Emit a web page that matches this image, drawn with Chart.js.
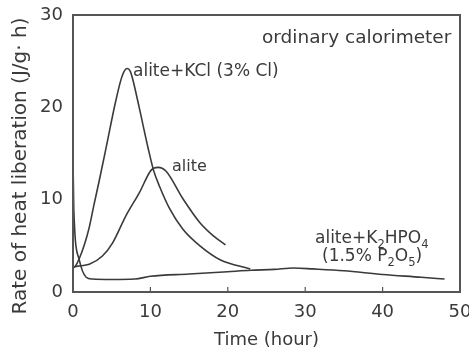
<!DOCTYPE html>
<html>
<head>
<meta charset="utf-8">
<script src="https://cdn.jsdelivr.net/npm/chart.js@4/dist/chart.umd.min.js"></script>
<style>
  html, body { margin: 0; padding: 0; background: #fff; }
  #wrap { width: 469px; height: 351px; }
</style>
</head>
<body>
<div id="wrap"><canvas id="heatChart"></canvas></div>
<script>
// Heat liberation curves (hours, J/g.h)
const kclTime = [0, 0.3, 0.8, 1.5, 2.1, 2.7, 3.4, 4.1, 4.8, 5.5, 6.2, 6.6, 7, 7.4, 7.7, 8.6, 9.7, 10.4, 11.2, 12.5, 14.2, 16.4, 19, 22.9];
const kclRate = [2.6, 2.8, 3.6, 5.2, 7.0, 9.4, 12.1, 14.9, 17.8, 20.6, 23.0, 23.9, 24.2, 23.9, 23.1, 19.8, 15.6, 13.2, 11.4, 9.0, 6.8, 5.0, 3.5, 2.5];

const aliteTime = [0, 0.6, 2.1, 3.8, 5.1, 6.8, 8.6, 10.1, 11, 12, 14.2, 16.4, 18.1, 19.7];
const aliteRate = [2.7, 2.8, 3.0, 3.9, 5.3, 8.2, 10.8, 13.2, 13.5, 13.1, 10.1, 7.5, 6.1, 5.1];

const phosTime = [0, 0.1, 0.8, 1.7, 2.5, 5, 8, 10, 15, 20, 23, 26, 28.5, 31, 35, 40, 45, 48];
const phosRate = [14.5, 9, 3.5, 1.6, 1.4, 1.35, 1.4, 1.7, 1.95, 2.2, 2.35, 2.45, 2.6, 2.5, 2.3, 1.9, 1.6, 1.4];

const xTicks = [0, 10, 20, 30, 40, 50];
const yTicks = [0, 10, 20, 30];

const ink = "#3a3a3a";
const fontFamily = "'DejaVu Sans', sans-serif";

function toPoints(xs, ys) {
  return xs.map((x, i) => ({ x: x, y: ys[i] }));
}

function lineSet(label, xs, ys) {
  return {
    label: label,
    data: toPoints(xs, ys),
    borderColor: ink,
    borderWidth: 1.6,
    pointRadius: 0,
    fill: false,
    cubicInterpolationMode: "monotone"
  };
}

// draws text made of parts, some of them subscripts
function drawParts(ctx, parts, x, y, size) {
  let cx = x;
  parts.forEach(p => {
    const s = p.sub ? size * 0.68 : size;
    ctx.font = s + "px " + fontFamily;
    ctx.fillText(p.t, cx, p.sub ? y + size * 0.32 : y);
    cx += ctx.measureText(p.t).width;
  });
}

const framePlugin = {
  id: "frame",
  afterDraw(chart) {
    const ctx = chart.ctx;
    const a = chart.chartArea;
    const xs = chart.scales.x;
    ctx.save();
    ctx.strokeStyle = "#555";
    ctx.lineWidth = 2;
    ctx.strokeRect(a.left, a.top, a.right - a.left, a.bottom - a.top);
    // inward ticks on the time axis
    ctx.lineWidth = 1.2;
    xTicks.slice(1, -1).forEach(v => {
      const px = xs.getPixelForValue(v);
      ctx.beginPath();
      ctx.moveTo(px, a.bottom);
      ctx.lineTo(px, a.bottom - 5);
      ctx.stroke();
    });

    ctx.fillStyle = ink;
    // y axis title, sits a little below the plot centre as in the original
    ctx.save();
    ctx.translate(21, 166);
    ctx.rotate(-Math.PI / 2);
    ctx.textAlign = "center";
    ctx.textBaseline = "middle";
    ctx.font = "20px " + fontFamily;
    ctx.fillText("Rate of heat liberation (J/g\u00b7 h)", 0, 0);
    ctx.restore();

    ctx.textBaseline = "alphabetic";
    ctx.textAlign = "left";
    ctx.font = "18.5px " + fontFamily;
    ctx.fillText("ordinary calorimeter", 262, 43);
    ctx.font = "17px " + fontFamily;
    ctx.fillText("alite+KCl (3% Cl)", 133, 76);
    ctx.font = "16px " + fontFamily;
    ctx.fillText("alite", 172, 171);
    drawParts(ctx, [{ t: "alite+K" }, { t: "2", sub: true }, { t: "HPO" }, { t: "4", sub: true }], 315, 243, 17);
    drawParts(ctx, [{ t: "(1.5% P" }, { t: "2", sub: true }, { t: "O" }, { t: "5", sub: true }, { t: ")" }], 322, 261, 17);
    ctx.restore();
  }
};

new Chart(document.getElementById("heatChart"), {
  type: "line",
  data: {
    datasets: [
      lineSet("alite+KCl (3% Cl)", kclTime, kclRate),
      lineSet("alite", aliteTime, aliteRate),
      lineSet("alite+K2HPO4 (1.5% P2O5)", phosTime, phosRate)
    ]
  },
  options: {
    responsive: true,
    maintainAspectRatio: false,
    animation: false,
    layout: { padding: { left: 0, right: 9, top: 15, bottom: 0 } },
    plugins: { legend: { display: false }, tooltip: { enabled: false } },
    scales: {
      x: {
        type: "linear",
        min: 0,
        max: 50,
        afterBuildTicks: s => { s.ticks = xTicks.map(v => ({ value: v })); },
        afterFit: s => { s.height = 59; s.paddingLeft = 0; s.paddingRight = 0; },
        grid: { display: false, drawTicks: false },
        border: { display: false },
        ticks: { color: ink, padding: 10, font: { size: 18, family: fontFamily }, maxRotation: 0 },
        title: { display: true, text: "Time (hour)", color: ink, padding: { top: 4, bottom: 0 }, font: { size: 18, family: fontFamily } }
      },
      y: {
        type: "linear",
        min: 0,
        max: 30,
        afterBuildTicks: s => { s.ticks = yTicks.map(v => ({ value: v })); },
        afterFit: s => { s.width = 73; s.paddingTop = 0; s.paddingBottom = 0; },
        grid: { display: false, drawTicks: false },
        border: { display: false },
        ticks: { color: ink, padding: 10, font: { size: 18, family: fontFamily } }
      }
    }
  },
  plugins: [framePlugin]
});
</script>
</body>
</html>
